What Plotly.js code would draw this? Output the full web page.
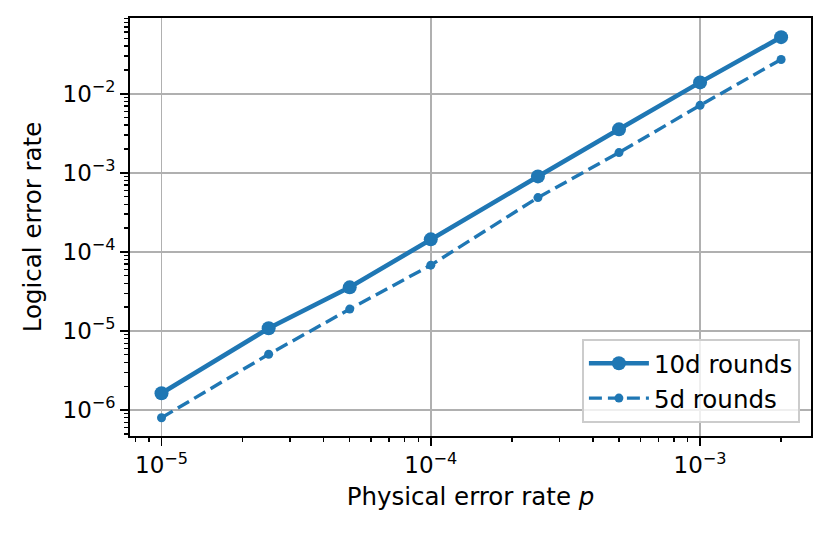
<!DOCTYPE html>
<html>
<head>
<meta charset="utf-8">
<script src="https://cdn.plot.ly/plotly-3.0.1.min.js"></script>
<style>html,body{margin:0;padding:0;background:#fff;}#chart{width:830px;height:538px;}</style>
</head>
<body>
<div id="chart"></div>
<script>
const physicalErrorRate = [1e-5, 2.5e-5, 5e-5, 1e-4, 2.5e-4, 5e-4, 1e-3, 2e-3];
const logical10d = [1.63e-6, 1.08e-5, 3.56e-5, 1.44e-4, 9.0e-4, 3.54e-3, 1.39e-2, 5.19e-2];
const logical5d = [8.0e-7, 5.07e-6, 1.89e-5, 6.79e-5, 4.86e-4, 1.80e-3, 7.12e-3, 2.71e-2];
const seriesNames = ["10d rounds", "5d rounds"];
const xTickVals = [1e-5, 1e-4, 1e-3];
const xTickText = ["10<sup>−5</sup>", "10<sup>−4</sup>", "10<sup>−3</sup>"];
const yTickVals = [1e-6, 1e-5, 1e-4, 1e-3, 1e-2];
const yTickText = ["10<sup>−6</sup>", "10<sup>−5</sup>", "10<sup>−4</sup>", "10<sup>−3</sup>", "10<sup>−2</sup>"];

const blue = '#1f77b4';
const tickFont = {family: 'DejaVu Sans, sans-serif', size: 23, color: '#000'};
const labelFont = {family: 'DejaVu Sans, sans-serif', size: 24.5, color: '#000'};

const traces = [
  {x: physicalErrorRate, y: logical10d, name: seriesNames[0], mode: 'lines+markers',
   line: {color: blue, width: 4.6}, marker: {color: blue, size: 14}},
  {x: physicalErrorRate, y: logical5d, name: seriesNames[1], mode: 'lines+markers',
   line: {color: blue, width: 3.4, dash: '13px,6px'}, marker: {color: blue, size: 9}}
];

const axisCommon = {
  type: 'log', showline: true, linecolor: '#000', linewidth: 1.8, mirror: true,
  ticks: 'outside', ticklen: 8, tickwidth: 1.8, tickcolor: '#000',
  showgrid: true, gridcolor: '#b0b0b0', gridwidth: 1.8, zeroline: false,
  tickfont: tickFont, tickmode: 'array',
  minor: {ticks: 'outside', ticklen: 4.6, tickwidth: 1.4, tickcolor: '#000', dtick: 'D1', showgrid: false}
};

const layout = {
  width: 830, height: 538,
  margin: {l: 130, r: 19, t: 18, b: 102},
  paper_bgcolor: '#fff', plot_bgcolor: '#fff',
  font: labelFont,
  showlegend: true,
  xaxis: Object.assign({}, axisCommon, {
    range: [-5.117, -2.588], tickvals: xTickVals, ticktext: xTickText,
    title: {text: 'Physical error rate <i>p</i>', font: labelFont, standoff: 10}
  }),
  yaxis: Object.assign({}, axisCommon, {
    range: [-6.328, -1.043], tickvals: yTickVals, ticktext: yTickText,
    title: {text: 'Logical error rate', font: labelFont, standoff: 14}
  }),
  legend: {
    x: 0.984, y: 0.031, xanchor: 'right', yanchor: 'bottom',
    bgcolor: 'rgba(255,255,255,0.8)', bordercolor: '#cccccc', borderwidth: 1.8,
    font: labelFont, itemwidth: 60
  }
};

Plotly.newPlot('chart', traces, layout, {displayModeBar: false, staticPlot: true});
</script>
</body>
</html>
